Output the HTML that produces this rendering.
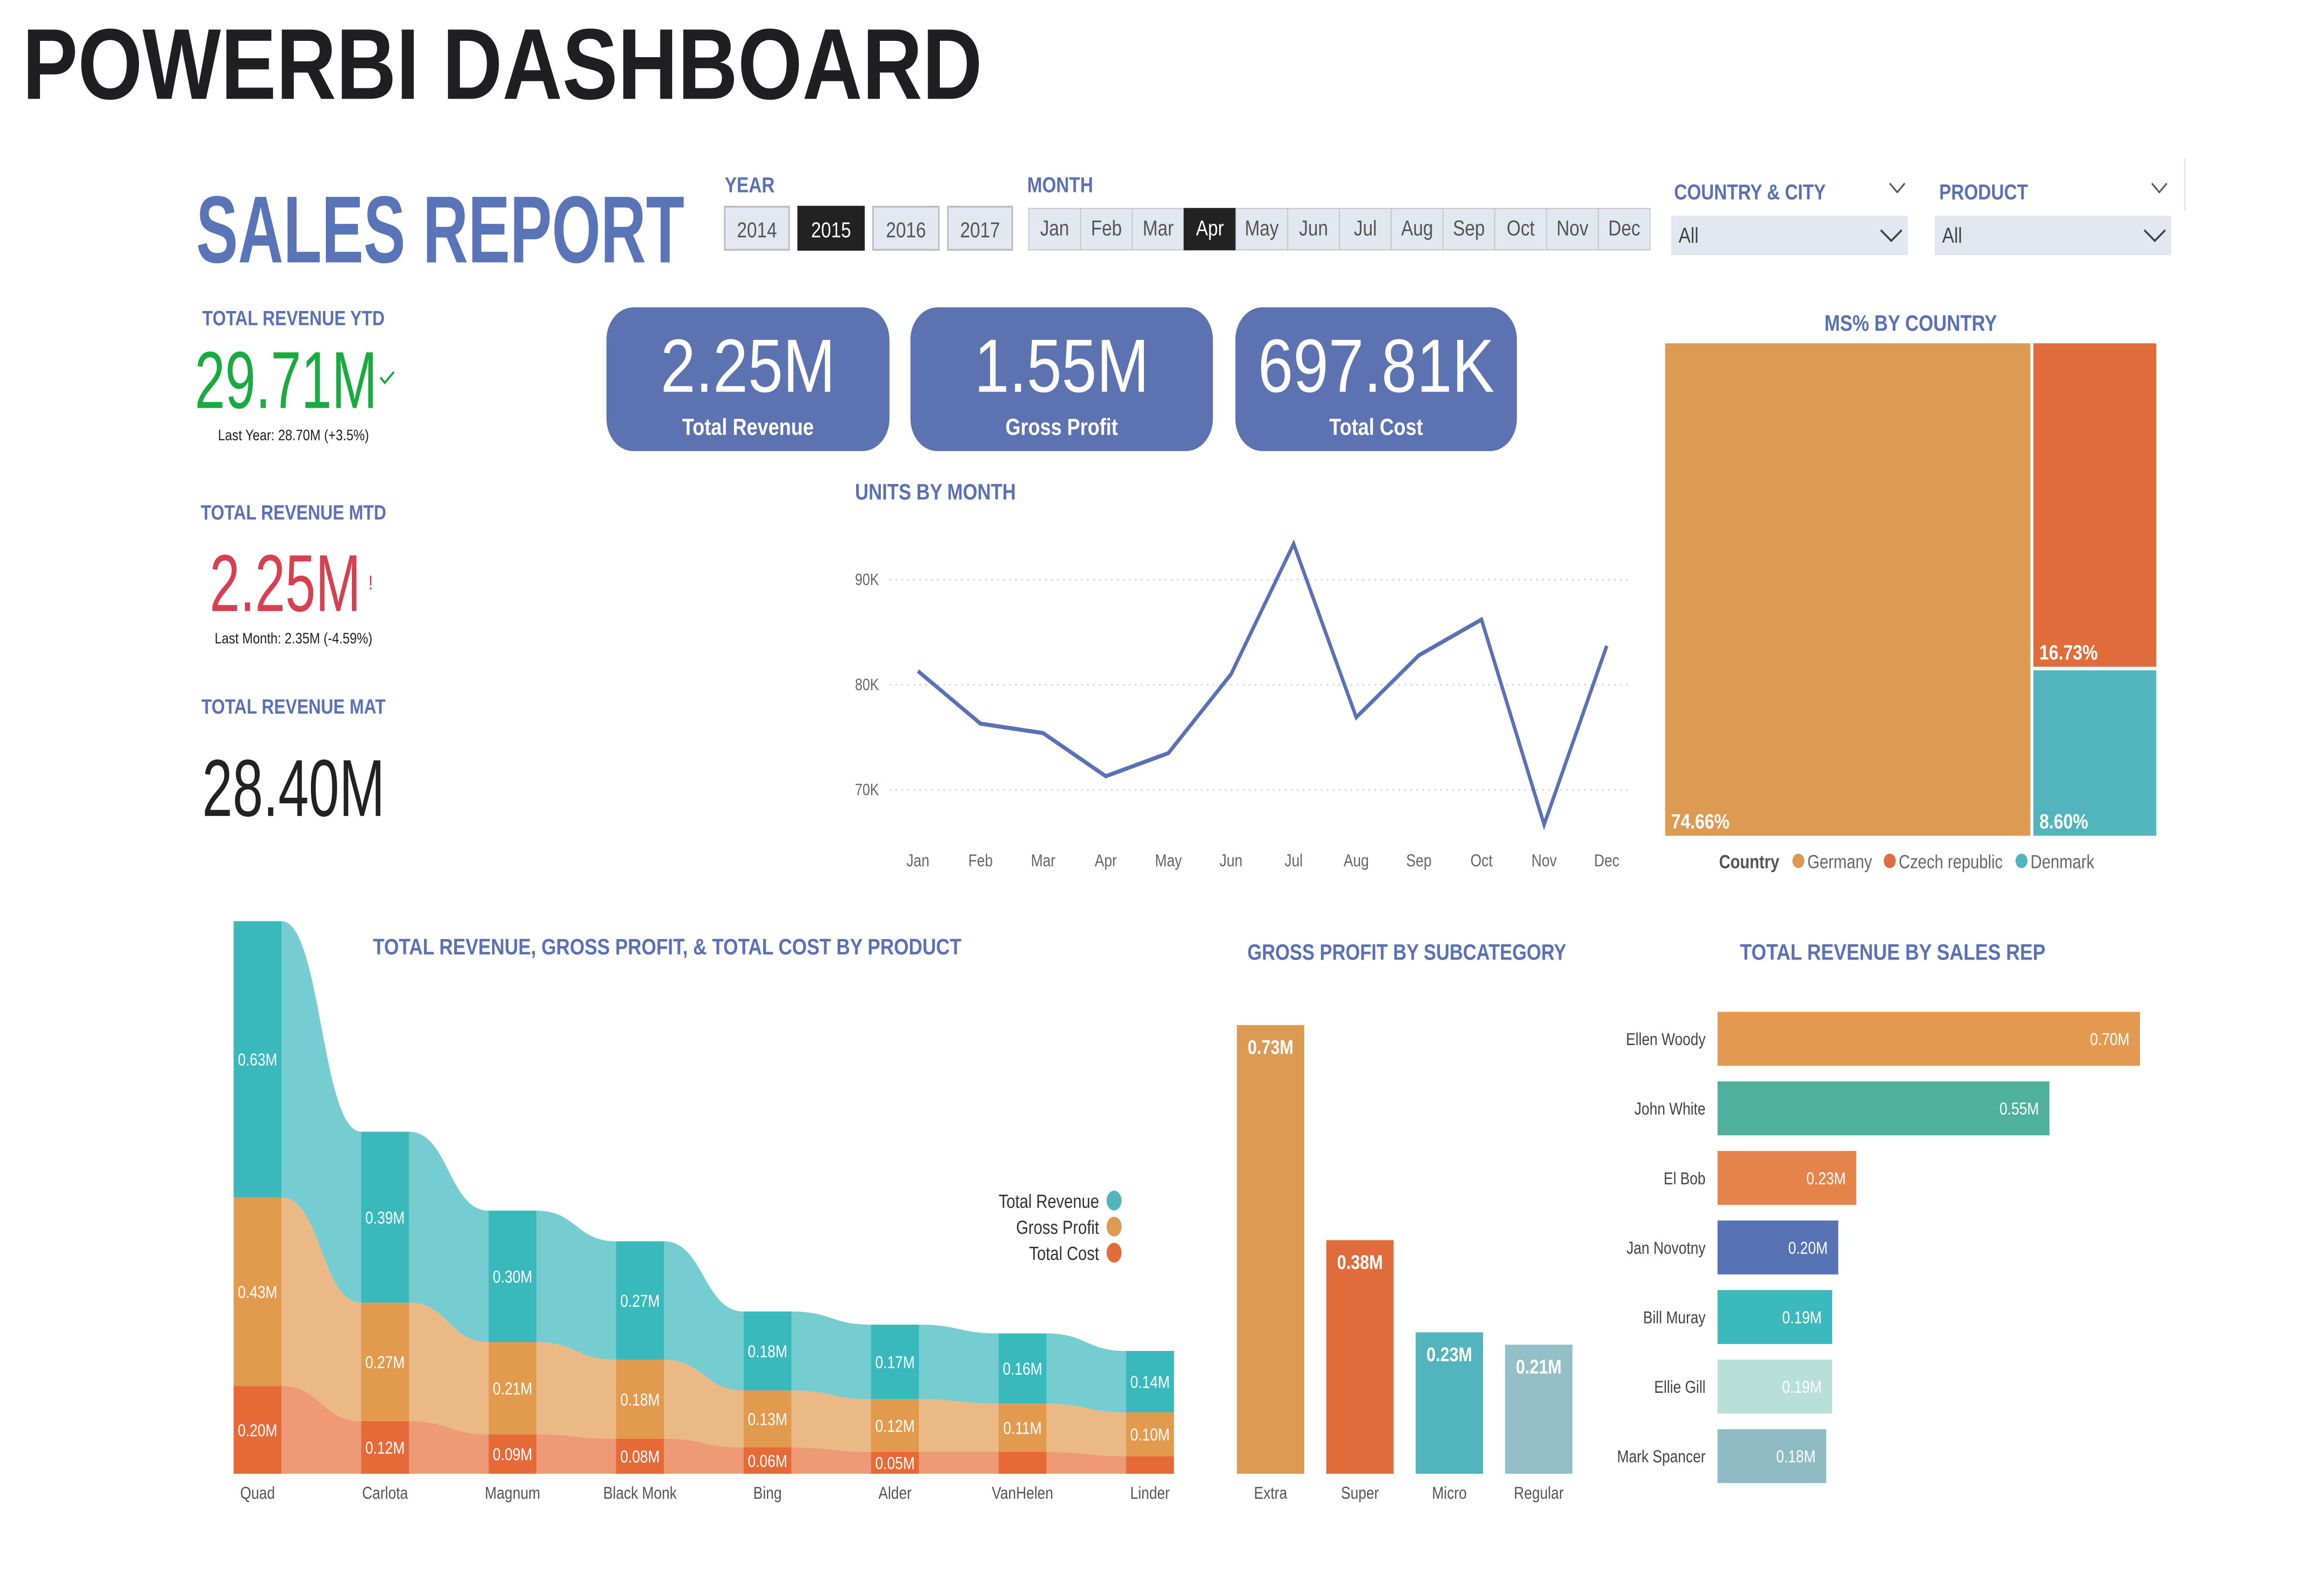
<!DOCTYPE html>
<html><head><meta charset="utf-8">
<style>
html,body{margin:0;padding:0;background:#fff;overflow:hidden;width:100%;height:100%;}
svg{display:block;font-family:"Liberation Sans",sans-serif;width:100vw;height:100vh;}
.b{fill:#5a72b5;font-weight:bold;}
</style></head>
<body>
<svg id="dash" viewBox="0 0 1552 873" preserveAspectRatio="none" xmlns="http://www.w3.org/2000/svg">
<rect width="1552" height="873" fill="#fff"/>
<text x="15" y="55" font-size="56" font-weight="bold" fill="#1f1f21" textLength="641" lengthAdjust="spacingAndGlyphs">POWERBI DASHBOARD</text>
<text x="131" y="146" font-size="53" font-weight="bold" fill="#5a74b8" textLength="326" lengthAdjust="spacingAndGlyphs">SALES REPORT</text>

<text class="b" x="484" y="107" font-size="12">YEAR</text>
<g><rect x="484" y="115" width="43" height="24" fill="#e3e7ef" stroke="#bbb"/><text x="505.5" y="132" font-size="12" fill="#555" text-anchor="middle">2014</text></g>
<g><rect x="533" y="115" width="44" height="24" fill="#222" stroke="#222"/><text x="555" y="132" font-size="12" fill="#fff" text-anchor="middle">2015</text></g>
<g><rect x="583" y="115" width="44" height="24" fill="#e3e7ef" stroke="#bbb"/><text x="605" y="132" font-size="12" fill="#555" text-anchor="middle">2016</text></g>
<g><rect x="633" y="115" width="43" height="24" fill="#e3e7ef" stroke="#bbb"/><text x="654.5" y="132" font-size="12" fill="#555" text-anchor="middle">2017</text></g>

<text class="b" x="686" y="107" font-size="12">MONTH</text>
<g id="months"></g>

<text class="b" x="1118" y="111" font-size="12">COUNTRY &amp; CITY</text>
<path d="M1262 102 l5 5 l5 -5" fill="none" stroke="#555" stroke-width="1"/>
<g><rect x="1116" y="120" width="158" height="22" fill="#e3e7ef"/><text x="1121" y="135" font-size="12" fill="#444">All</text><path d="M1256 128 l7 6 l7 -6" fill="none" stroke="#444" stroke-width="1.2"/></g>
<text class="b" x="1295" y="111" font-size="12">PRODUCT</text>
<path d="M1437 102 l5 5 l5 -5" fill="none" stroke="#555" stroke-width="1"/>
<g><rect x="1292" y="120" width="158" height="22" fill="#e3e7ef"/><text x="1297" y="135" font-size="12" fill="#444">All</text><path d="M1432 128 l7 6 l7 -6" fill="none" stroke="#444" stroke-width="1.2"/></g>
<line x1="1459" y1="88" x2="1459" y2="117" stroke="#e4e4e4"/>

<g><rect x="405" y="171" width="189" height="80" rx="18" fill="#5d73b1"/><text x="499.5" y="218" font-size="42" fill="#fff" text-anchor="middle">2.25M</text><text x="499.5" y="242" font-size="13" font-weight="bold" fill="#fff" text-anchor="middle">Total Revenue</text></g>
<g><rect x="608" y="171" width="202" height="80" rx="18" fill="#5d73b1"/><text x="709" y="218" font-size="42" fill="#fff" text-anchor="middle">1.55M</text><text x="709" y="242" font-size="13" font-weight="bold" fill="#fff" text-anchor="middle">Gross Profit</text></g>
<g><rect x="825" y="171" width="188" height="80" rx="18" fill="#5d73b1"/><text x="919" y="218" font-size="42" fill="#fff" text-anchor="middle" textLength="158" lengthAdjust="spacingAndGlyphs">697.81K</text><text x="919" y="242" font-size="13" font-weight="bold" fill="#fff" text-anchor="middle">Total Cost</text></g>

<text class="b" x="196" y="181" font-size="11.5" text-anchor="middle">TOTAL REVENUE YTD</text>
<text x="130" y="227" font-size="45" fill="#1aab40" textLength="122" lengthAdjust="spacingAndGlyphs">29.71M</text>
<path d="M254 210 l3 3 l6 -6" fill="none" stroke="#1aab40" stroke-width="1.3"/>
<text x="196" y="245" font-size="8.5" fill="#222" text-anchor="middle">Last Year: 28.70M (+3.5%)</text>
<text class="b" x="196" y="289" font-size="11.5" text-anchor="middle">TOTAL REVENUE MTD</text>
<text x="140" y="340" font-size="45" fill="#d6404f" textLength="101" lengthAdjust="spacingAndGlyphs">2.25M</text>
<text x="246" y="328" font-size="11" fill="#d6404f">!</text>
<text x="196" y="358" font-size="8.5" fill="#222" text-anchor="middle">Last Month: 2.35M (-4.59%)</text>
<text class="b" x="196" y="397" font-size="11.5" text-anchor="middle">TOTAL REVENUE MAT</text>
<text x="135" y="454" font-size="45" fill="#222" textLength="122" lengthAdjust="spacingAndGlyphs">28.40M</text>

<text class="b" x="571" y="278" font-size="12.5">UNITS BY MONTH</text>
<text class="b" x="1276" y="184" font-size="12.5" text-anchor="middle">MS% BY COUNTRY</text>
<text class="b" x="249" y="531" font-size="12.5" textLength="393" lengthAdjust="spacingAndGlyphs">TOTAL REVENUE, GROSS PROFIT, &amp; TOTAL COST  BY PRODUCT</text>
<text class="b" x="833" y="534" font-size="12.5" textLength="213" lengthAdjust="spacingAndGlyphs">GROSS PROFIT BY SUBCATEGORY</text>
<text class="b" x="1162" y="534" font-size="12.5" textLength="204" lengthAdjust="spacingAndGlyphs">TOTAL REVENUE BY SALES REP</text>

<g id="line"></g><g id="tree"></g><g id="ribbon"></g><g id="sub"></g><g id="rep"></g>
</svg>
<script>
const NS="http://www.w3.org/2000/svg";
function mk(parent,tag,attrs,txt){const e=document.createElementNS(NS,tag);for(const k in attrs)e.setAttribute(k,attrs[k]);if(txt!==undefined)e.textContent=txt;parent.appendChild(e);return e;}

const monthNames=["Jan","Feb","Mar","Apr","May","Jun","Jul","Aug","Sep","Oct","Nov","Dec"];
const selectedMonth="Apr";
const unitMonths=["Jan","Feb","Mar","Apr","May","Jun","Jul","Aug","Sep","Oct","Nov","Dec"];
const unitValues=[81300,76300,75400,71300,73500,81000,93400,76900,82800,86200,66700,83700];
const unitTicks=[70000,80000,90000];
const unitTickLabels=["70K","80K","90K"];
const countries=["Germany","Czech republic","Denmark"];
const countryShare=[74.66,16.73,8.60];
const products=["Quad","Carlota","Magnum","Black Monk","Bing","Alder","VanHelen","Linder"];
const revenueVals=[0.63,0.39,0.30,0.27,0.18,0.17,0.16,0.14];
const profitVals=[0.43,0.27,0.21,0.18,0.13,0.12,0.11,0.10];
const costVals=[0.20,0.12,0.09,0.08,0.06,0.05,0.05,0.04];
const subcats=["Extra","Super","Micro","Regular"];
const subVals=[0.73,0.38,0.23,0.21];
const reps=["Ellen Woody","John White","El Bob","Jan Novotny","Bill Muray","Ellie Gill","Mark Spancer"];
const repVals=[0.70,0.55,0.23,0.20,0.19,0.19,0.18];

(function(){const g=document.getElementById('months');const x0=687,w=415/12;
monthNames.forEach((m,i)=>{const sel=m===selectedMonth;const c=mk(g,'g',{});


mk(c,'rect',{x:x0+i*w,y:116,width:w,height:23,fill:sel?'#222':'#e3e7ef',stroke:sel?'#222':'#c4c4c4','stroke-width':0.6});
mk(c,'text',{x:x0+i*w+w/2,y:131,'font-size':12,fill:sel?'#fff':'#555','text-anchor':'middle'},m);});})();

(function(){const g=document.getElementById('line');
const y=v=>381-(v-80000)*58.5/10000;const x=i=>613+i*(1073-613)/11;
unitTicks.forEach((t,i)=>{const l=mk(g,'line',{x1:594,x2:1090,y1:y(t),y2:y(t),stroke:'#ccc','stroke-dasharray':'1 3','stroke-width':0.8});


const tx=mk(g,'text',{x:571,y:y(t)+3,'font-size':9,fill:'#666'},unitTickLabels[i]);

});
unitMonths.forEach((m,i)=>{const tx=mk(g,'text',{x:x(i),y:482,'font-size':9.5,fill:'#666','text-anchor':'middle'},m);

});
const p=mk(g,'polyline',{points:unitValues.map((v,i)=>x(i)+','+y(v)).join(' '),fill:'none',stroke:'#5a72b5','stroke-width':2.3,'stroke-linejoin':'miter'});

})();

(function(){const g=document.getElementById('tree');const X=1112,Y=191,W=328,H=274;const tot=countryShare.reduce((a,b)=>a+b,0);
const cols=['#dc9a52','#e06c3b','#52b4bc'];
const w0=W*countryShare[0]/tot;const rest=countryShare[1]+countryShare[2];
const rects=[[X,Y,w0-1,H],[X+w0+1,Y,W-w0-1,H*countryShare[1]/rest-1],[X+w0+1,Y+H*countryShare[1]/rest+1,W-w0-1,H*countryShare[2]/rest-1]];
rects.forEach((r,i)=>{const c=mk(g,'g',{});


mk(c,'rect',{x:r[0],y:r[1],width:r[2],height:r[3],fill:cols[i]});
mk(c,'text',{x:r[0]+4,y:r[1]+r[3]-4,'font-size':11.5,'font-weight':'bold',fill:'#fff'},countryShare[i].toFixed(2)+'%');});
const lg=mk(g,'text',{x:1148,y:483,'font-size':10.5,'font-weight':'bold',fill:'#555'},'Country');


let lx=1197;countries.forEach((c,i)=>{const e=mk(g,'g',{});


mk(e,'circle',{cx:lx+4,cy:479,r:4,fill:cols[i]});mk(e,'text',{x:lx+10,y:483,'font-size':10.5,fill:'#666'},c);
lx+=[61,88,60][i];});})();

(function(){const g=document.getElementById('ribbon');const base=820,k=244,x=i=>156+i*85.14,cw=32;
const colC=['#e56a38','#e29a4e','#3ab9bd'],ribC=['#ee9a77','#ebb985','#76cdd1'];
const series=[costVals,profitVals,revenueVals];const names=['cost','profit','revenue'];
const bot=[],top=[];products.forEach((p,i)=>{let b=base;bot[i]=[];top[i]=[];series.forEach((s,j)=>{bot[i][j]=b;b-=s[i]*k;top[i][j]=b;});});
for(let i=0;i<products.length-1;i++){series.forEach((s,j)=>{const x1=x(i)+cw,x2=x(i+1),m=(x1+x2)/2;
const d=`M${x1} ${top[i][j]} C${m} ${top[i][j]} ${m} ${top[i+1][j]} ${x2} ${top[i+1][j]} L${x2} ${bot[i+1][j]} C${m} ${bot[i+1][j]} ${m} ${bot[i][j]} ${x1} ${bot[i][j]} Z`;
const r=mk(g,'path',{d:d,fill:ribC[j]});

});}
products.forEach((p,i)=>{series.forEach((s,j)=>{const r=mk(g,'rect',{x:x(i),y:top[i][j],width:cw,height:bot[i][j]-top[i][j],fill:colC[j]});


if(!(j===0&&i>=6)){const t=mk(g,'text',{x:x(i)+cw/2,y:(top[i][j]+bot[i][j])/2+3.5,'font-size':9.5,fill:'#fff','text-anchor':'middle'},s[i].toFixed(2)+'M');

}});
const t=mk(g,'text',{x:x(i)+cw/2,y:834,'font-size':9.5,fill:'#555','text-anchor':'middle'},p);

});
const ln=['Total Revenue','Gross Profit','Total Cost'],lc=['#52b4bc','#dc9a52','#e06c3b'];
ln.forEach((n,i)=>{const e=mk(g,'g',{});


mk(e,'text',{x:734,y:672+i*14.5,'font-size':10.5,fill:'#333','text-anchor':'end'},n);mk(e,'ellipse',{cx:744,cy:668+i*14.5,rx:5,ry:5.5,fill:lc[i]});});})();

(function(){const g=document.getElementById('sub');const base=820,k=342,cols=['#dc9a52','#e06c3b','#52b4bc','#94bfc6'];
subcats.forEach((c,i)=>{const x=826+i*59.7,h=subVals[i]*k;const b=mk(g,'g',{});


mk(b,'rect',{x:x,y:base-h,width:45,height:h,fill:cols[i]});
mk(b,'text',{x:x+22.5,y:base-h+16,'font-size':11,'font-weight':'bold',fill:'#fff','text-anchor':'middle'},subVals[i].toFixed(2)+'M');
const t=mk(g,'text',{x:x+22.5,y:834,'font-size':9.5,fill:'#555','text-anchor':'middle'},c);

});})();

(function(){const g=document.getElementById('rep');const x0=1147,k=403,cols=['#e39a50','#4fb19c','#e6834a','#5773b5','#3bb9bc','#b9e0d8','#8fbcc4'];
reps.forEach((r,i)=>{const yc=578+i*38.7,w=repVals[i]*k;const b=mk(g,'g',{});


mk(b,'rect',{x:x0,y:yc-15,width:w,height:30,fill:cols[i]});
mk(b,'text',{x:x0+w-7,y:yc+3.5,'font-size':9.5,fill:'#fff','text-anchor':'end'},repVals[i].toFixed(2)+'M');
const t=mk(g,'text',{x:1139,y:yc+3.5,'font-size':9.5,fill:'#444','text-anchor':'end'},r);

});})();
</script>
</body></html>
